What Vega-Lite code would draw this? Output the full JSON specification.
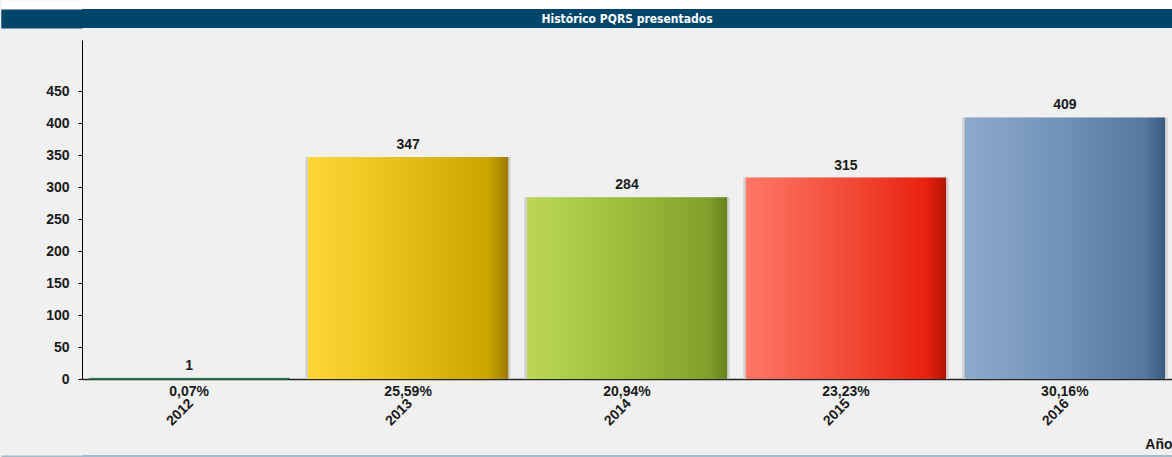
{
  "$schema": "https://vega.github.io/schema/vega-lite/v6.json",
  "background": "#f0f0f0",
  "padding": 0,
  "spacing": 0,
  "config": {"view": {"stroke": null}, "font": "Liberation Sans"},
  "datasets": {
    "pqrs": [
      {"year": "2012", "count": 1, "pct": "0,07%"},
      {"year": "2013", "count": 347, "pct": "25,59%"},
      {"year": "2014", "count": 284, "pct": "20,94%"},
      {"year": "2015", "count": 315, "pct": "23,23%"},
      {"year": "2016", "count": 409, "pct": "30,16%"}
    ],
    "header": [{"v": 9.5, "t": "Histórico PQRS presentados"}],
    "strip": [{"v": 4.5}],
    "line": [{"v": 1}],
    "none": []
  },
  "vconcat": [
    {"width": 1090, "height": 9, "view": {"fill": "#ffffff", "stroke": null}, "data": {"name": "strip"},
     "mark": {"type": "point", "size": 1, "opacity": 0},
     "encoding": {"y": {"field": "v", "type": "quantitative", "scale": {"domain": [0, 9], "nice": false},
       "axis": {"title": null, "domain": false, "labels": false, "grid": false, "values": [1, 2, 3, 4, 5, 6, 7, 8], "tickSize": 81, "tickWidth": 2, "tickColor": "#ffffff", "minExtent": 82, "maxExtent": 82}}}},
    {"width": 1090, "height": 19, "view": {"fill": "#00466b", "stroke": null}, "data": {"name": "header"},
     "mark": {"type": "text", "color": "#ffffff", "font": "Liberation Sans Narrow, DejaVu Sans Condensed", "fontWeight": "bold", "fontSize": 12, "baseline": "middle", "align": "center"},
     "encoding": {"y": {"field": "v", "type": "quantitative", "scale": {"domain": [0, 19], "nice": false},
       "axis": {"title": null, "domain": false, "labels": false, "grid": false, "values": [1, 2, 3, 4, 5, 6, 7, 8, 9, 10, 11, 12, 13, 14, 15, 16, 17, 18], "tickSize": 81, "tickWidth": 2, "tickColor": "#00466b", "minExtent": 82, "maxExtent": 82}},
       "text": {"field": "t"}}},
    {"width": 1090, "height": 12, "data": {"name": "none"}, "mark": "text", "encoding": {}},
    {
      "width": 1090, "height": 339,
      "data": {"name": "pqrs"},
      "encoding": {
        "x": {"field": "year", "type": "nominal", "sort": null,
          "scale": {"paddingInner": 0.085, "paddingOuter": 0.032},
          "axis": {"title": "Año", "titleAnchor": "end", "titleFontSize": 14, "titleFontWeight": "bold", "titleColor": "#1a1a1a", "titlePadding": 6,
            "labelAngle": -45, "labelAlign": "right", "labelBaseline": "middle", "labelPadding": 22, "labelOffset": 2,
            "labelFontSize": 14, "labelFontWeight": "bold", "labelColor": "#1a1a1a", "ticks": false,
            "domainColor": "#222222", "domainWidth": 1.5, "minExtent": 52, "maxExtent": 52}},
        "y": {"field": "count", "type": "quantitative",
          "scale": {"domain": [0, 530], "nice": false},
          "axis": {"values": [0, 50, 100, 150, 200, 250, 300, 350, 400, 450], "title": null, "grid": false,
            "domainColor": "#000000", "tickColor": "#000000", "tickSize": 4, "labelFontSize": 14, "labelFontWeight": "bold",
            "labelColor": "#1a1a1a", "labelPadding": 9, "minExtent": 82, "maxExtent": 82}}
      },
      "layer": [
        {"mark": {"type": "bar", "color": "#d2d2d2", "width": {"band": 1.025}}},
        {"transform": [{"filter": "datum.year == '2012'"}],
         "mark": {"type": "bar", "stroke": "#2e7d4f", "strokeWidth": 1,
           "fill": {"gradient": "linear", "x1": 0, "x2": 1, "y1": 0, "y2": 0,
             "stops": [{"offset": 0, "color": "#5aa870"}, {"offset": 1, "color": "#1f5a3a"}]}}},
        {"transform": [{"filter": "datum.year == '2013'"}],
         "mark": {"type": "bar",
           "fill": {"gradient": "linear", "x1": 0, "x2": 1, "y1": 0, "y2": 0,
             "stops": [{"offset": 0, "color": "#fdd835"}, {"offset": 0.5, "color": "#e5bd17"}, {"offset": 0.9, "color": "#cba500"}, {"offset": 1, "color": "#9a7a00"}]}}},
        {"transform": [{"filter": "datum.year == '2014'"}],
         "mark": {"type": "bar",
           "fill": {"gradient": "linear", "x1": 0, "x2": 1, "y1": 0, "y2": 0,
             "stops": [{"offset": 0, "color": "#bcd757"}, {"offset": 0.5, "color": "#9dbb3b"}, {"offset": 0.9, "color": "#84a02c"}, {"offset": 1, "color": "#68831f"}]}}},
        {"transform": [{"filter": "datum.year == '2015'"}],
         "mark": {"type": "bar",
           "fill": {"gradient": "linear", "x1": 0, "x2": 1, "y1": 0, "y2": 0,
             "stops": [{"offset": 0, "color": "#ff7766"}, {"offset": 0.5, "color": "#f14c38"}, {"offset": 0.9, "color": "#e8220f"}, {"offset": 1, "color": "#b51505"}]}}},
        {"transform": [{"filter": "datum.year == '2016'"}],
         "mark": {"type": "bar",
           "fill": {"gradient": "linear", "x1": 0, "x2": 1, "y1": 0, "y2": 0,
             "stops": [{"offset": 0, "color": "#8eaacb"}, {"offset": 0.5, "color": "#7092b8"}, {"offset": 0.9, "color": "#5577a0"}, {"offset": 1, "color": "#3c5a80"}]}}},
        {"mark": {"type": "text", "dy": -5, "baseline": "bottom", "fontSize": 14, "fontWeight": "bold", "color": "#1a1a1a"},
         "encoding": {"text": {"field": "count", "type": "quantitative"}}},
        {"mark": {"type": "text", "dy": 13, "baseline": "middle", "fontSize": 14, "fontWeight": "bold", "color": "#1a1a1a"},
         "encoding": {"y": {"datum": 0}, "text": {"field": "pct", "type": "nominal"}}}
      ]
    },
    {"width": 1090, "height": 4, "data": {"name": "none"}, "mark": "text", "encoding": {}},
    {"width": 1090, "height": 2, "view": {"fill": "#a3bccd", "stroke": null}, "data": {"name": "line"},
     "mark": {"type": "point", "size": 1, "opacity": 0},
     "encoding": {"y": {"field": "v", "type": "quantitative", "scale": {"domain": [0, 2], "nice": false},
       "axis": {"title": null, "domain": false, "labels": false, "grid": false, "values": [1], "tickSize": 81, "tickWidth": 2, "tickColor": "#a3bccd", "minExtent": 82, "maxExtent": 82}}}}
  ]
}
